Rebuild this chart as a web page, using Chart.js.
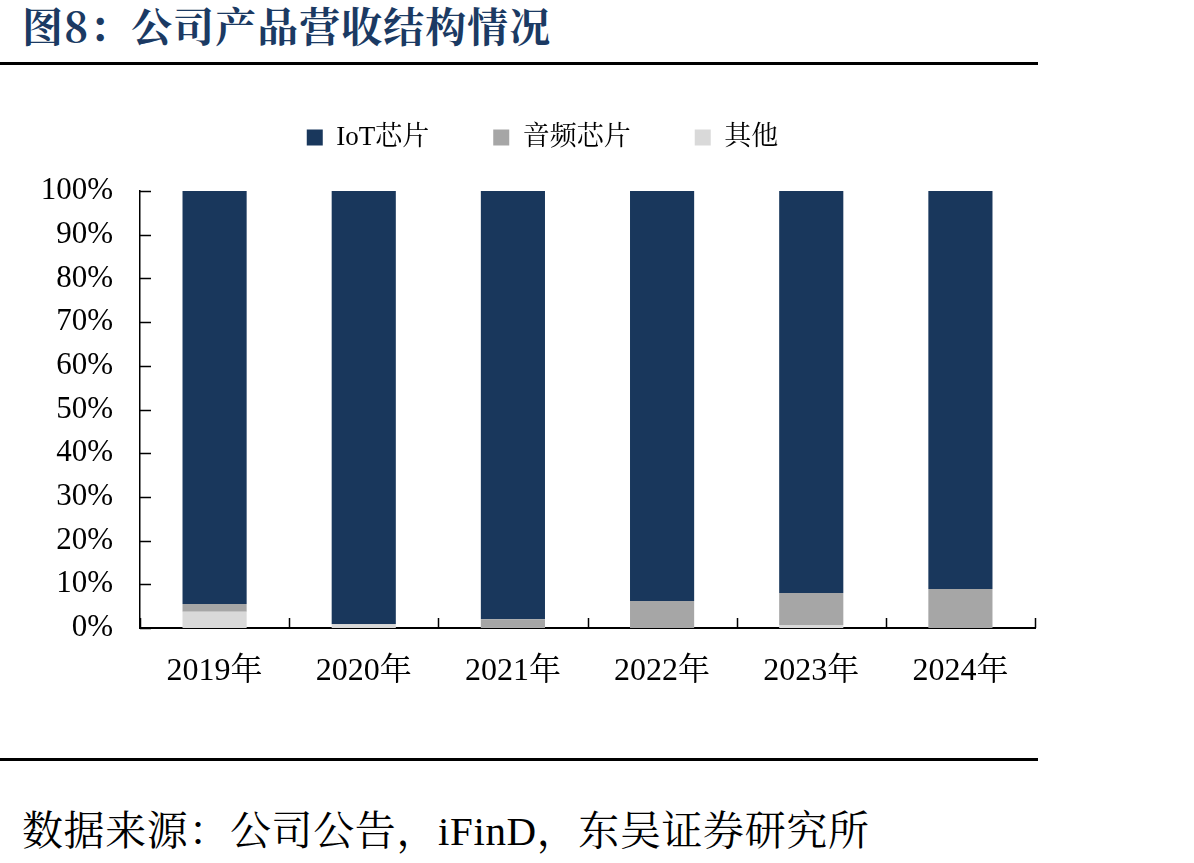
<!DOCTYPE html>
<html>
<head>
<meta charset="utf-8">
<script src="https://cdn.jsdelivr.net/npm/chart.js@4.4.0/dist/chart.umd.min.js"></script>
<style>
  body { margin: 0; background: #fff; width: 1194px; height: 863px; position: relative; overflow: hidden; }
  #title { position: absolute; left: 22px; top: 5px; font: bold 41px/40px "Noto Serif CJK SC", "Noto Sans CJK SC", serif; color: #1b3a63; letter-spacing: 1px; }
  .rule { position: absolute; left: 0; width: 1038px; height: 3px; background: #000; }
  #src { position: absolute; left: 22px; top: 811px; font: 41px/41px "Liberation Serif", "Noto Serif CJK SC", "Noto Sans CJK SC", serif; color: #000; letter-spacing: 0.6px; }
  #wrap { position: absolute; left: 0; top: 60px; width: 1045px; height: 660px; }
</style>
</head>
<body>
<div id="title">图8：公司产品营收结构情况</div>
<div class="rule" style="top:62px"></div>
<div id="wrap"><canvas id="c"></canvas></div>
<div class="rule" style="top:758px"></div>
<div id="src">数据来源：公司公告，iFinD，东吴证券研究所</div>
<script>
var years = ['2019年', '2020年', '2021年', '2022年', '2023年', '2024年'];
var iot = [94.5, 99.1, 98.0, 93.8, 92.0, 91.1];
var audio = [1.8, 0.1, 1.8, 6.2, 7.3, 8.9];
var other = [3.7, 0.8, 0.2, 0.0, 0.7, 0.0];
var yTicks = [0, 10, 20, 30, 40, 50, 60, 70, 80, 90, 100];

var serif = '"Liberation Serif", "Noto Serif CJK SC", "Noto Sans CJK SC", serif';

// ticks point into the plot on both axes
var inTicks = {
    id: 'inTicks',
    afterDatasetsDraw: function (chart) {
        var c = chart.ctx, a = chart.chartArea;
        var ys = chart.scales.y;
        c.save();
        c.strokeStyle = '#000';
        c.lineWidth = 1.5;
        c.beginPath();
        yTicks.forEach(function (v) {
            var py = Math.round(ys.getPixelForValue(v)) + 0.5;
            c.moveTo(a.left, py);
            c.lineTo(a.left + 11, py);
        });
        var n = years.length;
        for (var i = 0; i <= n; i++) {
            var px = Math.round(a.left + i * (a.right - a.left) / n) + 0.5;
            c.moveTo(px, a.bottom);
            c.lineTo(px, a.bottom - 10);
        }
        c.stroke();
        c.restore();
    }
};

// extra room under the legend, and nudge it a bit to the right
var legendGap = {
    id: 'legendGap',
    beforeInit: function (chart) {
        var fit = chart.legend.fit;
        chart.legend.fit = function () {
            fit.bind(chart.legend)();
            this.height += 30;
        };
    },
    afterLayout: function (chart) {
        chart.legend.left += 50;
    }
};

var ctx = document.getElementById('c').getContext('2d');
var chart = new Chart(ctx, {
    type: 'bar',
    data: {
        labels: years,
        datasets: [
            { label: '其他', data: other, backgroundColor: '#d9d9d9' },
            { label: '音频芯片', data: audio, backgroundColor: '#a6a6a6' },
            { label: 'IoT芯片', data: iot, backgroundColor: '#19375c' }
        ]
    },
    options: {
        responsive: true,
        maintainAspectRatio: false,
        animation: false,
        layout: { padding: { left: 0, right: 10, top: 0, bottom: 0 } },
        datasets: { bar: { categoryPercentage: 1, barPercentage: 0.43, borderWidth: 0 } },
        plugins: {
            tooltip: { enabled: false },
            legend: {
                reverse: true,
                labels: {
                    color: '#000',
                    font: { family: serif, size: 27 },
                    boxWidth: 16,
                    boxHeight: 16,
                    padding: 64
                }
            }
        },
        scales: {
            x: {
                stacked: true,
                grid: { display: false },
                border: { color: '#000', width: 2 },
                ticks: { color: '#000', font: { family: serif, size: 32 }, padding: 16 },
                afterFit: function (s) { s.height = 92; }
            },
            y: {
                stacked: true,
                min: 0,
                max: 100,
                afterBuildTicks: function (s) { s.ticks = yTicks.map(function (v) { return { value: v }; }); },
                grid: { display: false },
                border: { color: '#000', width: 1.5 },
                ticks: {
                    color: '#000',
                    font: { family: serif, size: 31 },
                    padding: 19,
                    callback: function (v) { return v + '%'; }
                },
                afterFit: function (s) { s.width = 140; }
            }
        }
    },
    plugins: [inTicks, legendGap]
});
</script>
</body>
</html>
